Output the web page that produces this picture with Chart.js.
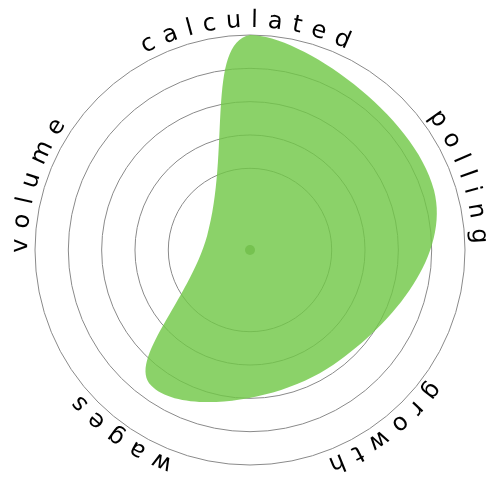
<!DOCTYPE html>
<html>
<head>
<meta charset="utf-8">
<script src="https://cdn.jsdelivr.net/npm/chart.js@4"></script>
<style>
  html, body { margin: 0; padding: 0; background: #ffffff; }
  #wrap { width: 500px; height: 500px; }
</style>
</head>
<body>
<div id="wrap"><canvas id="c" width="500" height="500"></canvas></div>
<script>
const categories = ["calculated", "polling", "growth", "wages", "volume"];
const values = [100, 90, 66, 78, 21];
const ringTicks = [0, 38, 53.5, 69, 84.5, 100];

const curvedLabels = {
  id: 'curvedLabels',
  afterDraw(chart) {
    const scale = chart.scales.r;
    const ctx = chart.ctx;
    const cx = scale.xCenter, cy = scale.yCenter;
    const R = scale.drawingArea + 8;
    const spacing = 9.5;
    ctx.save();
    ctx.font = '24px "DejaVu Sans"';
    ctx.fillStyle = '#000000';
    ctx.textBaseline = 'alphabetic';
    ctx.textAlign = 'left';
    chart.data.labels.forEach((label, i) => {
      const theta = scale.getIndexAngle(i);
      const chars = Array.from(label);
      const widths = chars.map(ch => ctx.measureText(ch).width);
      const total = widths.reduce((a, b) => a + b, 0) + spacing * chars.length;
      let s = -total / 2;
      chars.forEach((ch, k) => {
        const mid = s + widths[k] / 2;
        const phi = theta + mid / R;
        ctx.save();
        ctx.translate(cx + R * Math.sin(phi), cy - R * Math.cos(phi));
        ctx.rotate(phi);
        ctx.fillText(ch, -widths[k] / 2, 0);
        ctx.restore();
        s += widths[k] + spacing;
      });
    });
    ctx.restore();
  }
};

const centerDot = {
  id: 'centerDot',
  afterDatasetsDraw(chart) {
    const scale = chart.scales.r;
    const ctx = chart.ctx;
    ctx.save();
    ctx.beginPath();
    ctx.arc(scale.xCenter, scale.yCenter, 5, 0, Math.PI * 2);
    ctx.fillStyle = 'rgba(100,180,60,0.55)';
    ctx.fill();
    ctx.restore();
  }
};

new Chart(document.getElementById('c'), {
  type: 'radar',
  data: {
    labels: categories,
    datasets: [{
      data: values,
      backgroundColor: 'rgba(114,200,72,0.82)',
      borderWidth: 0,
      pointRadius: 0,
      pointHoverRadius: 0,
      fill: true,
      tension: 0.42
    }]
  },
  options: {
    responsive: false,
    animation: false,
    events: [],
    layout: { padding: 35 },
    plugins: { legend: { display: false }, tooltip: { enabled: false } },
    scales: {
      r: {
        min: 0,
        max: 100,
        afterBuildTicks(scale) {
          scale.ticks = ringTicks.map(v => ({ value: v }));
        },
        ticks: { display: false },
        pointLabels: { display: false },
        angleLines: { display: false },
        grid: { circular: true, color: '#8a8a8a', lineWidth: 1 }
      }
    }
  },
  plugins: [curvedLabels, centerDot]
});
</script>
</body>
</html>
